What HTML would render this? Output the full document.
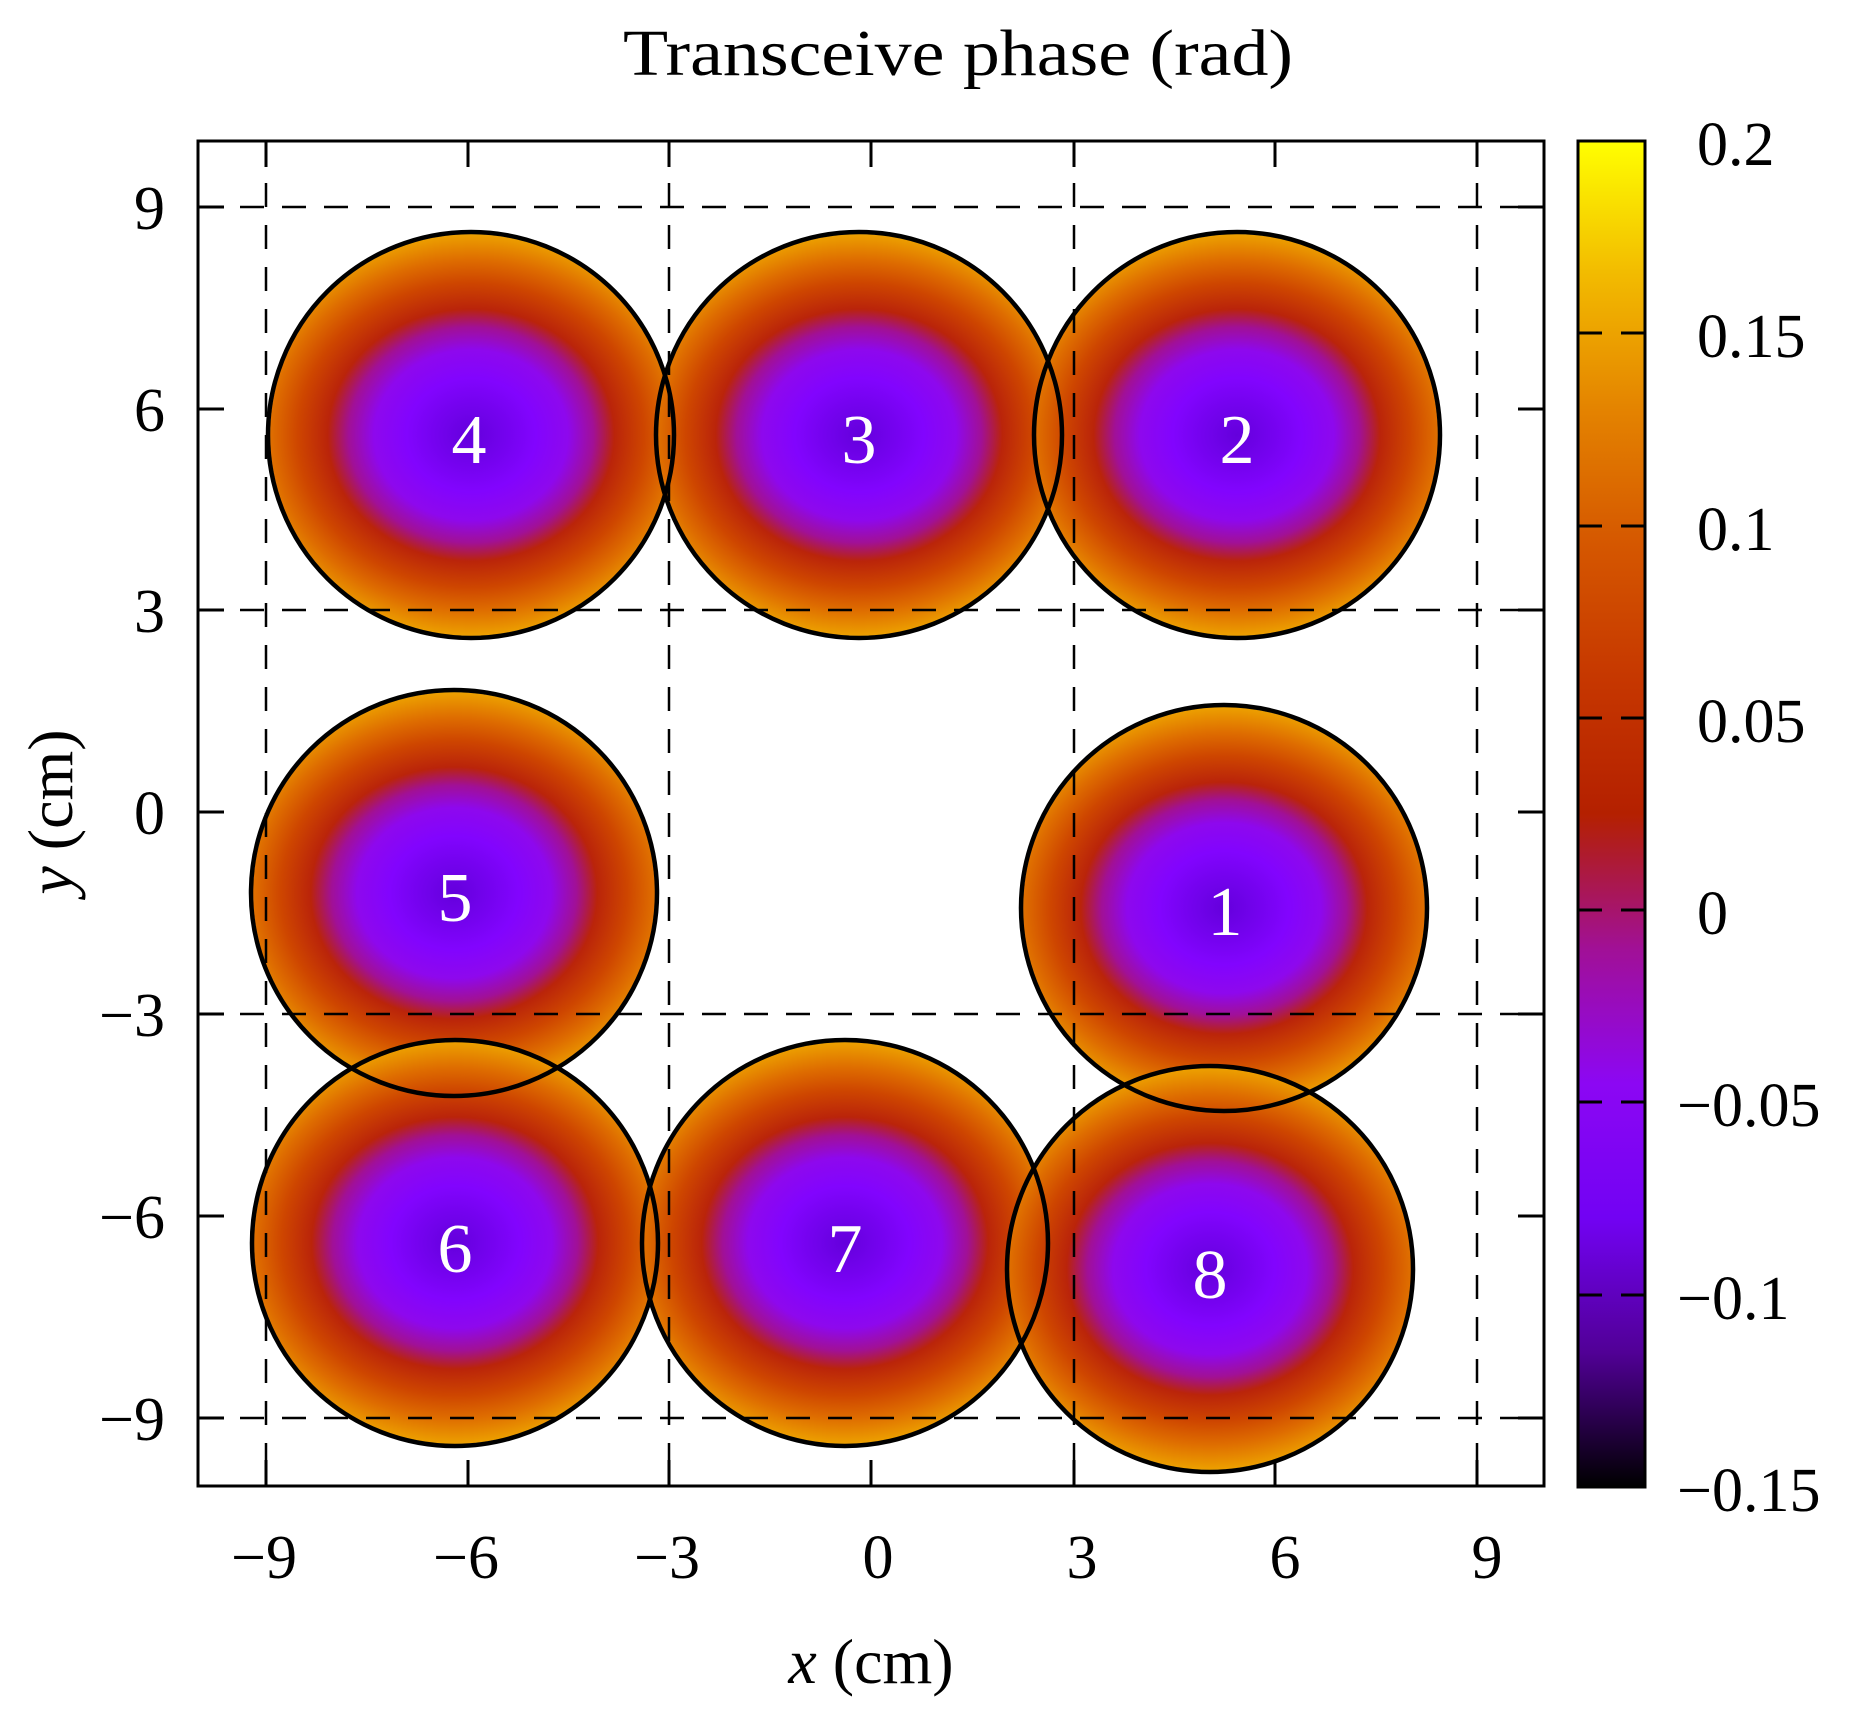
<!DOCTYPE html>
<html><head><meta charset="utf-8"><style>
html,body{margin:0;padding:0;background:#fff;}
svg{display:block;}
text{font-family:"Liberation Serif",serif;fill:#000;}
</style></head><body>
<svg width="1855" height="1720" viewBox="0 0 1855 1720" xmlns="http://www.w3.org/2000/svg">
<defs>
<linearGradient id="cb" x1="0" y1="1" x2="0" y2="0">
<stop offset="0" stop-color="rgb(0,0,0)"/>
<stop offset="0.1" stop-color="rgb(81,0,150)"/>
<stop offset="0.2" stop-color="rgb(114,2,243)"/>
<stop offset="0.3" stop-color="rgb(140,7,243)"/>
<stop offset="0.4" stop-color="rgb(161,16,150)"/>
<stop offset="0.5" stop-color="rgb(180,32,0)"/>
<stop offset="0.6" stop-color="rgb(198,55,0)"/>
<stop offset="0.7" stop-color="rgb(213,87,0)"/>
<stop offset="0.8" stop-color="rgb(228,131,0)"/>
<stop offset="0.9" stop-color="rgb(242,186,0)"/>
<stop offset="1" stop-color="rgb(255,255,0)"/>
</linearGradient>
<radialGradient id="g" cx="0.5" cy="0.5" r="0.575" gradientTransform="translate(0.5 0.5) scale(1 0.88) translate(-0.5 -0.5)">
<stop offset="0" stop-color="rgb(100,0,220)"/>
<stop offset="0.28" stop-color="rgb(130,4,254)"/>
<stop offset="0.42" stop-color="rgb(142,8,237)"/>
<stop offset="0.53" stop-color="rgb(161,16,150)"/>
<stop offset="0.62" stop-color="rgb(186,36,10)"/>
<stop offset="0.75" stop-color="rgb(206,70,0)"/>
<stop offset="0.86" stop-color="rgb(222,108,0)"/>
<stop offset="1" stop-color="rgb(238,165,0)"/>
</radialGradient>
</defs>

<text x="958" y="75" font-size="66" text-anchor="middle" textLength="670" lengthAdjust="spacingAndGlyphs">Transceive phase (rad)</text>

<g>
<circle cx="471" cy="435" r="201" fill="url(#g)"/>
<circle cx="859" cy="435" r="201" fill="url(#g)"/>
<circle cx="1237" cy="435" r="201" fill="url(#g)"/>
<circle cx="454" cy="893" r="201" fill="url(#g)"/>
<circle cx="1224" cy="908" r="201" fill="url(#g)"/>
<circle cx="455" cy="1243" r="201" fill="url(#g)"/>
<circle cx="845" cy="1243" r="201" fill="url(#g)"/>
<circle cx="1210" cy="1269" r="201" fill="url(#g)"/>
</g>

<g stroke="#000" stroke-width="2.5" stroke-dasharray="24,18" fill="none">
<line x1="266" y1="141" x2="266" y2="1486"/>
<line x1="669" y1="141" x2="669" y2="1486"/>
<line x1="1074" y1="141" x2="1074" y2="1486"/>
<line x1="1477" y1="141" x2="1477" y2="1486"/>
<line x1="198" y1="207" x2="1544" y2="207"/>
<line x1="198" y1="610" x2="1544" y2="610"/>
<line x1="198" y1="1014" x2="1544" y2="1014"/>
<line x1="198" y1="1418" x2="1544" y2="1418"/>
</g>

<g stroke="#000" stroke-width="3">
<path d="M266 141v26M468 141v26M669 141v26M871 141v26M1074 141v26M1275 141v26M1477 141v26"/>
<path d="M266 1486v-26M468 1486v-26M669 1486v-26M871 1486v-26M1074 1486v-26M1275 1486v-26M1477 1486v-26"/>
<path d="M198 207h26M198 409h26M198 610h26M198 812h26M198 1014h26M198 1216h26M198 1418h26"/>
<path d="M1544 207h-26M1544 409h-26M1544 610h-26M1544 812h-26M1544 1014h-26M1544 1216h-26M1544 1418h-26"/>
</g>

<g stroke="#000" stroke-width="4.5" fill="none">
<circle cx="471" cy="435" r="203"/>
<circle cx="859" cy="435" r="203"/>
<circle cx="1237" cy="435" r="203"/>
<circle cx="454" cy="893" r="203"/>
<circle cx="1224" cy="908" r="203"/>
<circle cx="455" cy="1243" r="203"/>
<circle cx="845" cy="1243" r="203"/>
<circle cx="1210" cy="1269" r="203"/>
</g>

<rect x="198" y="141" width="1346" height="1345" fill="none" stroke="#000" stroke-width="3"/>

<g font-size="70" text-anchor="middle">
<text x="469" y="463" style="fill:#fff">4</text>
<text x="859" y="463" style="fill:#fff">3</text>
<text x="1237" y="463" style="fill:#fff">2</text>
<text x="455" y="921" style="fill:#fff">5</text>
<text x="1225" y="935" style="fill:#fff">1</text>
<text x="455" y="1272" style="fill:#fff">6</text>
<text x="845" y="1272" style="fill:#fff">7</text>
<text x="1210" y="1298" style="fill:#fff">8</text>
</g>

<g font-size="62" text-anchor="middle">
<text x="264" y="1578">−9</text>
<text x="466" y="1578">−6</text>
<text x="667" y="1578">−3</text>
<text x="878" y="1578">0</text>
<text x="1082" y="1578">3</text>
<text x="1285" y="1578">6</text>
<text x="1487" y="1578">9</text>
</g>
<g font-size="62" text-anchor="end">
<text x="165" y="229">9</text>
<text x="165" y="431">6</text>
<text x="165" y="632">3</text>
<text x="165" y="834">0</text>
<text x="165" y="1036">−3</text>
<text x="165" y="1238">−6</text>
<text x="165" y="1440">−9</text>
</g>

<text x="871" y="1683" font-size="64" text-anchor="middle"><tspan font-style="italic">x</tspan> (cm)</text>
<text transform="translate(72 812) rotate(-90)" font-size="64" text-anchor="middle"><tspan font-style="italic">y</tspan> (cm)</text>

<rect x="1578" y="141" width="67" height="1346" fill="url(#cb)" stroke="#000" stroke-width="3"/>
<g stroke="#000" stroke-width="3">
<path d="M1578 333h24M1645 333h-24M1578 526h24M1645 526h-24M1578 718h24M1645 718h-24M1578 910h24M1645 910h-24M1578 1102h24M1645 1102h-24M1578 1295h24M1645 1295h-24"/>
</g>
<g font-size="62">
<text x="1697" y="165">0.2</text>
<text x="1697" y="357">0.15</text>
<text x="1697" y="550">0.1</text>
<text x="1697" y="742">0.05</text>
<text x="1697" y="934">0</text>
<text x="1677" y="1126">−0.05</text>
<text x="1677" y="1319">−0.1</text>
<text x="1677" y="1511">−0.15</text>
</g>
</svg>
</body></html>
